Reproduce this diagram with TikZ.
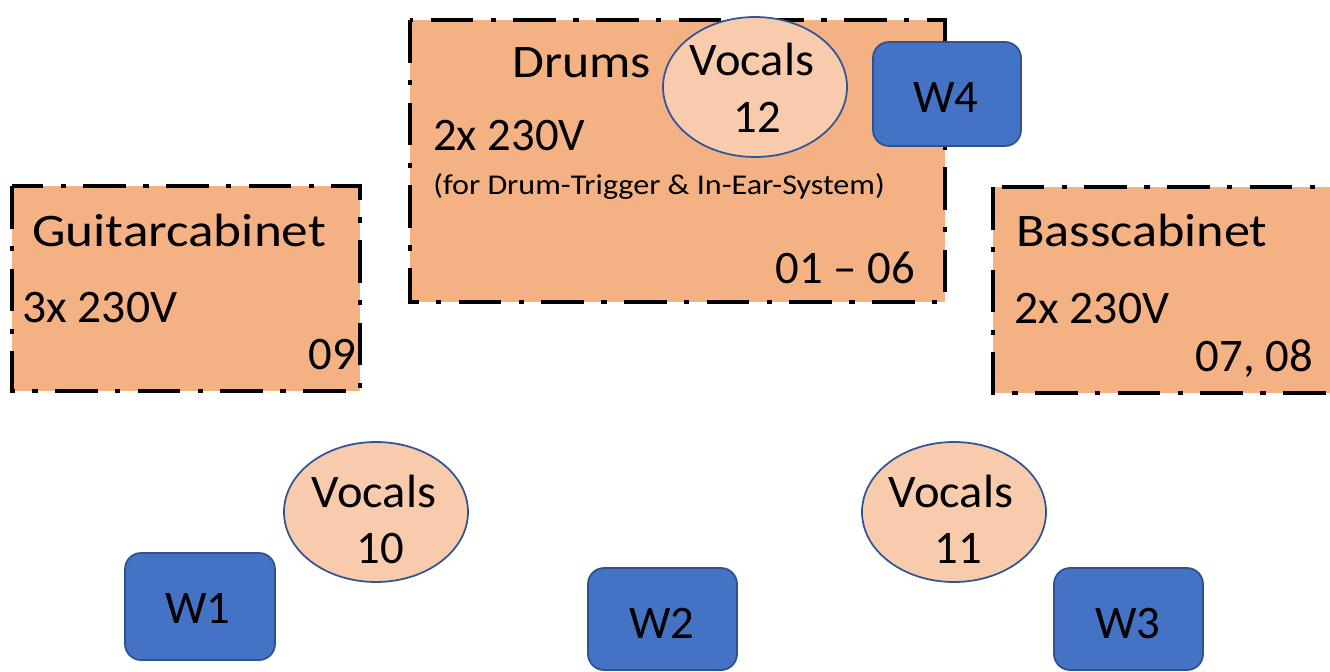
\documentclass[tikz,border=0pt]{standalone}
\usepackage{graphicx}
\usepackage{fontspec}
\setmainfont{Carlito}
\definecolor{cabfill}{HTML}{F4B183}
\definecolor{vocfill}{HTML}{F8CBAD}
\definecolor{vocline}{HTML}{2F5597}
\definecolor{wfill}{HTML}{4472C4}
\definecolor{wline}{HTML}{2F528F}
\newcommand{\wider}[2]{\scalebox{#1}[1]{#2}}
\begin{document}
\begin{tikzpicture}[x=0.75pt,y=-0.75pt,
  cab/.style={draw=black,fill=cabfill,line width=3.6pt,
    dash pattern=on 32pt off 13pt on 4pt off 13pt},
  vocell/.style={draw=vocline,fill=vocfill,line width=1.3pt},
  wbox/.style={draw=wline,fill=wfill,line width=1.3pt,rounded corners=12pt},
  big/.style={inner sep=0pt,font=\fontsize{35}{42}\selectfont},
  small/.style={inner sep=0pt,font=\fontsize{21.5}{26}\selectfont}]
\useasboundingbox (0,0) rectangle (1330,671);
% cabinets / drum riser
\draw[cab] (410,20) rectangle (945,302);
\draw[cab] (12,186) rectangle (360,391);
\draw[cab] (993,187) rectangle (1350,393);
% texts in drum box
\node[big,anchor=base west] (tdrums) at (512,77) {\wider{1.11}{Drums}};
\node[big,anchor=base west] (tdv) at (433,150) {2x 230V};
\node[small,anchor=base west] (tdnote) at (433,194) {\wider{1.12}{(for Drum-Trigger \& In-Ear-System)}};
\node[big,anchor=base east] (tdch) at (915,283) {01 – 06};
% guitar
\node[big,anchor=base west] (tg) at (32,246) {\wider{1.14}{Guitarcabinet}};
\node[big,anchor=base west] (tgv) at (22,322) {\wider{1.02}{3x 230V}};
\node[big,anchor=base east] (tgch) at (356,369) {09};
% bass
\node[big,anchor=base west] (tb) at (1016,246) {\wider{1.12}{Basscabinet}};
\node[big,anchor=base west] (tbv) at (1014,323) {\wider{1.02}{2x 230V}};
\node[big,anchor=base east] (tbch) at (1313,371) {07, 08};
% vocals
\draw[vocell] (755,87) ellipse [x radius=92, y radius=70];
\node[big,anchor=base] (v12a) at (752,75) {\wider{1.04}{Vocals}};
\node[big,anchor=base] (v12b) at (757,132) {12};
\draw[vocell] (376,512) ellipse [x radius=92, y radius=70];
\node[big,anchor=base] (v10a) at (374,507) {\wider{1.04}{Vocals}};
\node[big,anchor=base] (v10b) at (380,563) {10};
\draw[vocell] (954,512) ellipse [x radius=92, y radius=70];
\node[big,anchor=base] (v11a) at (951,507) {\wider{1.04}{Vocals}};
\node[big,anchor=base] (v11b) at (958,563) {11};
% wedges
\draw[wbox] (873,42) rectangle (1021,146);
\node[big,anchor=base] (w4) at (946,112) {W4};
\draw[wbox] (125,553) rectangle (275,660);
\node[big,anchor=base] (w1) at (198,623) {W1};
\draw[wbox] (588,568) rectangle (737,670);
\node[big,anchor=base] (w2) at (662,638) {W2};
\draw[wbox] (1054,568) rectangle (1203,670);
\node[big,anchor=base] (w3) at (1128,638) {W3};
\end{tikzpicture}
\end{document}
